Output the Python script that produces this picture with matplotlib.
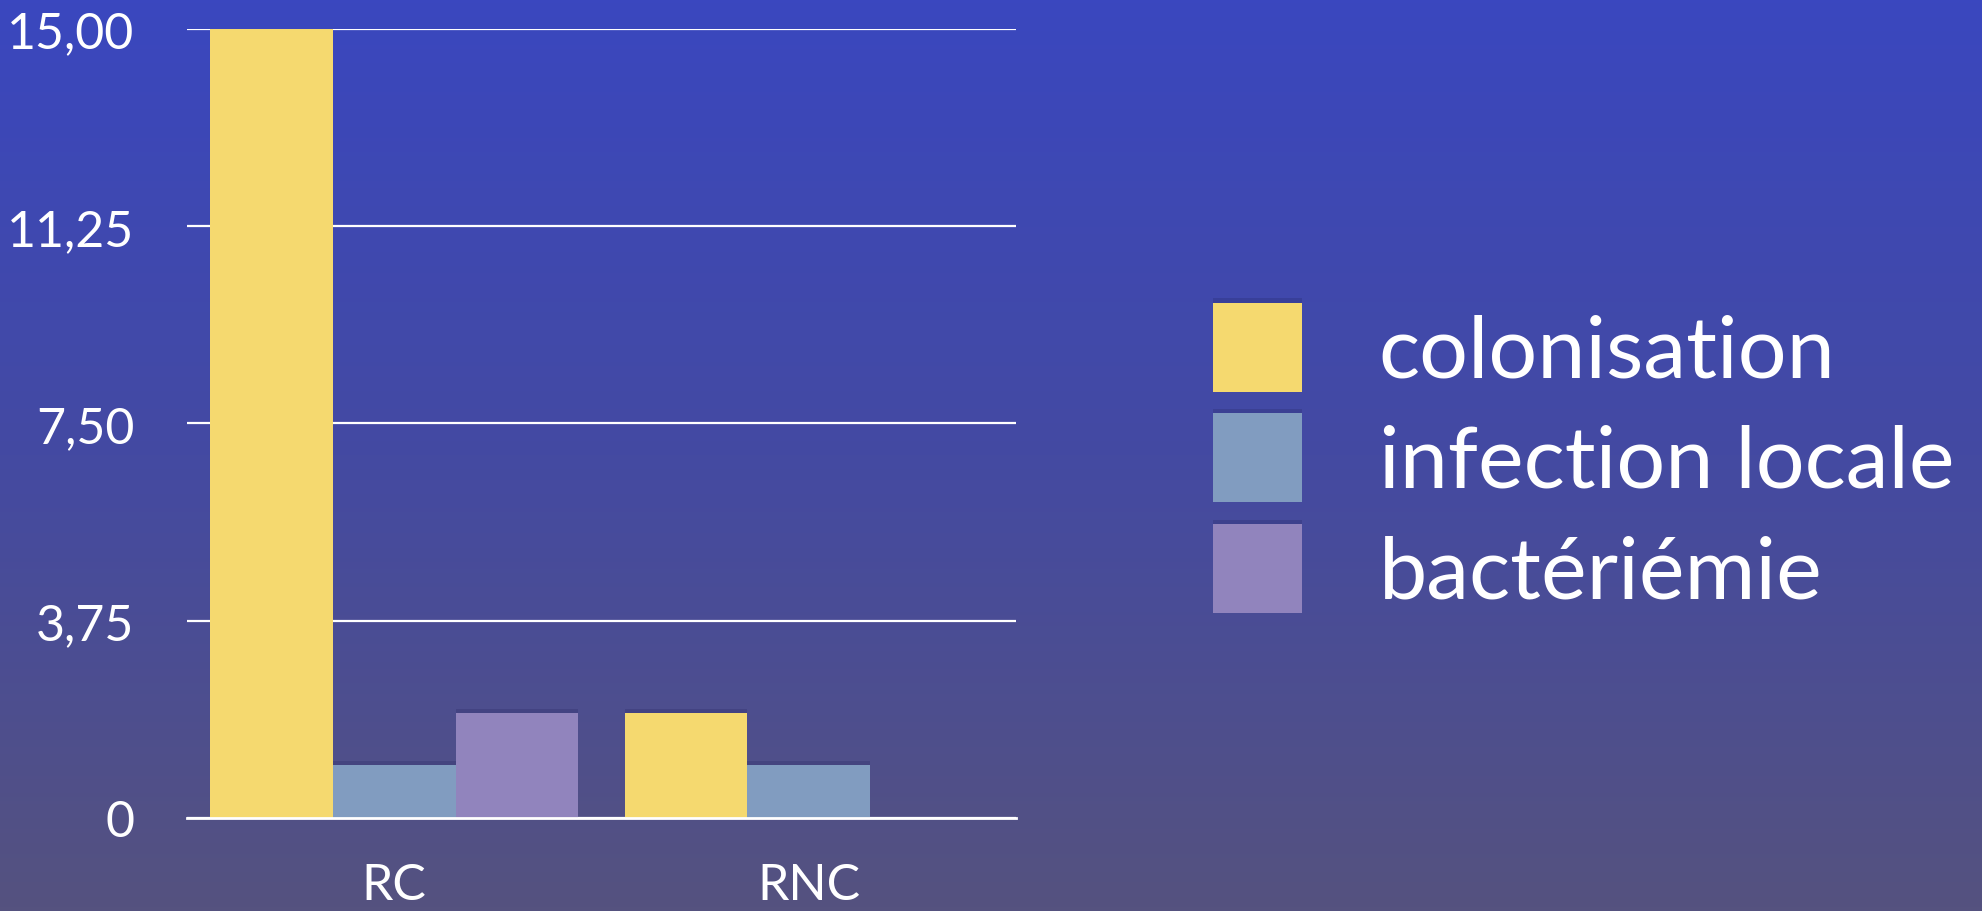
import numpy as np
import matplotlib
matplotlib.use("Agg")
import matplotlib.pyplot as plt
import matplotlib.patheffects as pe
from matplotlib.colors import LinearSegmentedColormap

# Data
groups = ["RC", "RNC"]
series = ["colonisation", "infection locale", "bactériémie"]
colonisation = [15, 2]
infection_locale = [1, 1]
bacteriemie = [2, 0]
yticks = [0, 3.75, 7.5, 11.25, 15]
ytick_labels = ["0", "3,75", "7,50", "11,25", "15,00"]

colors = ["#F5D96F", "#819CC0", "#9184BD"]
plt.rcParams["font.family"] = ["Lato", "DejaVu Sans"]

fig = plt.figure(figsize=(19.83, 9.12), dpi=100)

# Gradient background
bg = fig.add_axes([0, 0, 1, 1], zorder=-10)
cmap = LinearSegmentedColormap.from_list("bg", ["#3A47BF", "#444AA2", "#55527F"])
grad = np.linspace(0, 1, 256).reshape(-1, 1)
bg.imshow(grad, aspect="auto", cmap=cmap, extent=[0, 1, 0, 1], origin="upper")
bg.axis("off")

ax = fig.add_axes([0.0943, 0.1020, 0.5124 - 0.0943, 0.9671 - 0.1020])
ax.set_facecolor("none")

x = np.arange(len(groups))
w = 0.296
shadow = [pe.SimplePatchShadow(offset=(0, 3), shadow_rgbFace="#20205a", alpha=0.22), pe.Normal()]
handles = []
for i, (vals, c, name) in enumerate(zip([colonisation, infection_locale, bacteriemie], colors, series)):
    bars = ax.bar(x + (i - 1) * w, vals, width=w, color=c, label=name, zorder=3)
    for b in bars:
        b.set_path_effects(shadow)
    handles.append(bars)

ax.set_xlim(-0.5, 1.5)
ax.set_ylim(0, 15)
ax.set_yticks(yticks)
ax.set_yticklabels(ytick_labels)
ax.set_xticks(x)
ax.set_xticklabels(groups)
ax.tick_params(axis="both", length=0, colors="white", labelsize=36)
ax.tick_params(axis="y", pad=38)
ax.tick_params(axis="x", pad=32)
ax.yaxis.grid(True, color="white", linewidth=1.6, zorder=1)
ax.set_axisbelow(True)
for s in ["top", "right", "left"]:
    ax.spines[s].set_visible(False)
ax.spines["bottom"].set_color("white")
ax.spines["bottom"].set_linewidth(2)
ax.spines["bottom"].set_zorder(4)

leg = fig.legend(handles=handles, labels=series, loc="center left",
                 bbox_to_anchor=(0.6117, 0.497), frameon=False, fontsize=62,
                 handlelength=1.034, handleheight=1.214, handletextpad=0.89,
                 labelspacing=0.25, borderpad=0, borderaxespad=0, labelcolor="white")

fig.savefig("out.png", dpi=100)
